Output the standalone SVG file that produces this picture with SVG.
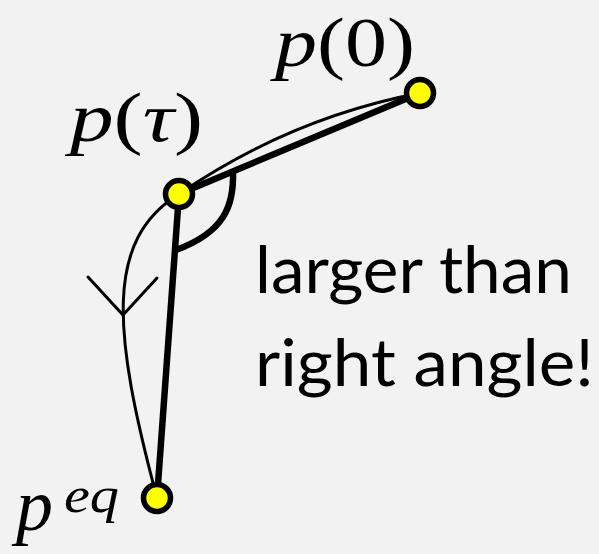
<svg xmlns="http://www.w3.org/2000/svg" width="599" height="554" viewBox="0 0 599 554">
<style>
.thick{fill:none;stroke:#000;stroke-width:6.5;stroke-linecap:round}
.thin{fill:none;stroke:#000;stroke-width:3;stroke-linecap:round;stroke-linejoin:round}
.node{fill:#ffff00;stroke:#000;stroke-width:5.5}
.math{font-family:"Liberation Serif","DejaVu Serif",serif;fill:#000}
.it{font-style:italic}
.lbl{font-family:Lato,"Open Sans",sans-serif;font-size:65px;fill:#000}
</style>
<rect width="599" height="554" fill="#f2f2f2"/>
<g id="connectors">
<path class="thick" d="M420,93 L179,194"/>
<path class="thick" d="M179,194 L157,498"/>
<path class="thin" d="M420,93 Q290,118 179,194"/>
<path class="thin" d="M179,194 C105,240 112,330 157,498"/>
<polyline class="thin" points="88,277 123,315 157,278"/>
<path class="thick" d="M233,172 C234,205 225,232 176,250"/>
</g>
<g id="node-p0">
<circle class="node" cx="420" cy="93" r="13.5"/>
<text class="math" x="275" y="66" font-size="70" textLength="140" lengthAdjust="spacingAndGlyphs"><tspan class="it">p</tspan>(0)</text>
</g>
<g id="node-ptau">
<circle class="node" cx="179" cy="194" r="13.5"/>
<text class="math" x="70" y="141" font-size="70" textLength="133" lengthAdjust="spacingAndGlyphs"><tspan class="it">p</tspan>(<tspan class="it">τ</tspan>)</text>
</g>
<g id="node-peq">
<circle class="node" cx="157" cy="498" r="13.5"/>
<text class="math it" x="16" y="530" font-size="74">p</text>
<text class="math it" x="64" y="512" font-size="50" textLength="55" lengthAdjust="spacingAndGlyphs">eq</text>
</g>
<g id="label">
<text class="lbl" x="255" y="293" textLength="317" lengthAdjust="spacingAndGlyphs">larger than</text>
<text class="lbl" x="255" y="386" textLength="339" lengthAdjust="spacingAndGlyphs">right angle!</text>
</g>
</svg>
